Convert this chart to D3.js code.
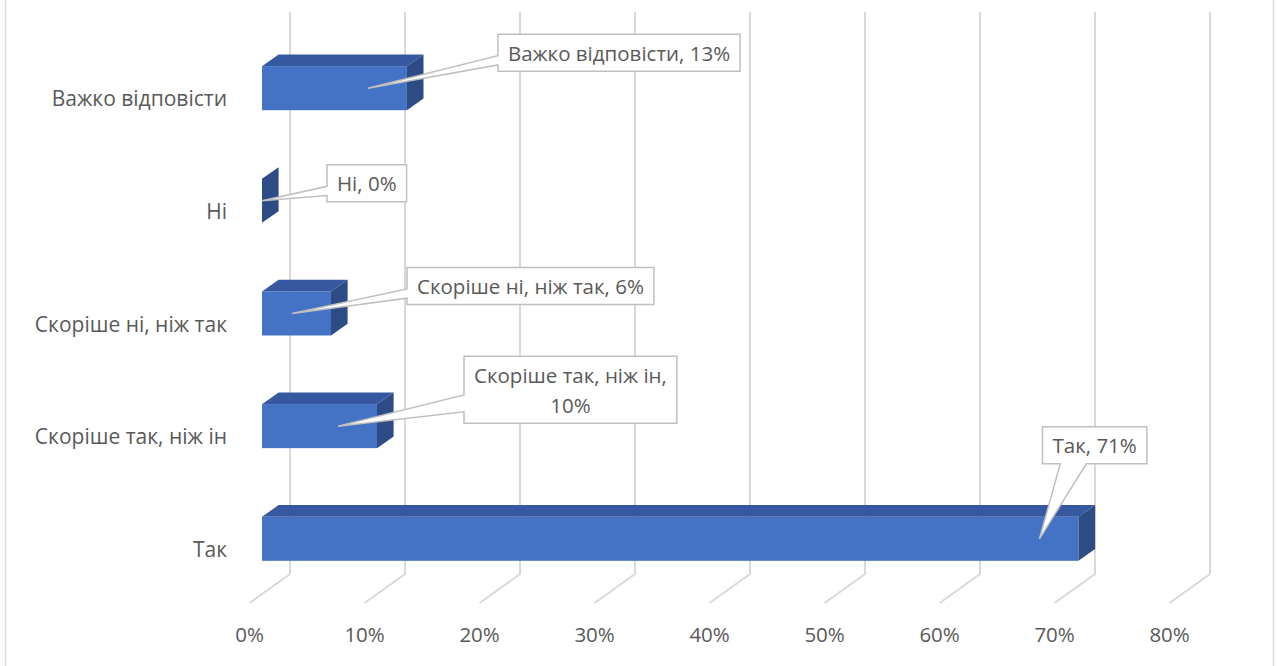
<!DOCTYPE html>
<html>
<head>
<meta charset="utf-8">
<script src="https://cdn.jsdelivr.net/npm/d3@7"></script>
<style>
  body { margin: 0; background: #fff; }
  text { font-family: "Open Sans", "Noto Sans", sans-serif; fill: #595959; }
</style>
</head>
<body>
<div id="chart-container"></div>
<script>
// data, bottom to top
let categories = ["Так", "Скоріше так, ніж ін", "Скоріше ні, ніж так", "Ні", "Важко відповісти"];
let values = [71, 10, 6, 0, 12.6];
let tickValues = [0, 10, 20, 30, 40, 50, 60, 70, 80];

// callout placement per label (box left/top relative to pointer tip), wrap = value on second line
let callouts = [
  {dx: 3, dy: -112, wrap: false, side: "bottom"},
  {dx: 126, dy: -70, wrap: true, side: "left"},
  {dx: 115, dy: -46, wrap: false, side: "left"},
  {dx: 65, dy: -36, wrap: false, side: "left"},
  {dx: 130, dy: -54, wrap: false, side: "left"}
];

drawChart();

function drawChart(){
  let svgWidth = 1277;
  let svgHeight = 666;

  let barH = 44;
  let depth = [16.6, -11.7];   // bar depth vector
  let backShift = 28;          // back wall relative to bar front plane
  let floorShift = -12.4;      // front floor edge relative to bar front plane
  let gridTop = 12;
  let floorBack = 574;
  let floorFront = 603;

  let svg = d3.select("#chart-container")
    .append("svg")
    .attr("width", svgWidth)
    .attr("height", svgHeight);

  //chart border
  svg.append("rect")
    .attr("x", 5.5)
    .attr("y", -5)
    .attr("width", 1268)
    .attr("height", svgHeight + 10)
    .attr("fill", "none")
    .attr("stroke", "#d9d9d9")
    .attr("stroke-width", 1.5);

  let xScale = d3.scaleLinear()
    .domain([0, 80])
    .range([262, 262 + 920]);

  let yScale = d3.scalePoint()
    .domain(categories)
    .range([538.8, 88.2]);

  //grid walls + floor
  let grid = svg.append("g");
  grid.selectAll("path")
    .data(tickValues)
    .enter()
    .append("path")
    .attr("d", d => {
      let xb = xScale(d) + backShift;
      let xf = xScale(d) + floorShift;
      return `M${xb},${gridTop} V${floorBack} L${xf},${floorFront}`;
    })
    .attr("fill", "none")
    .attr("stroke", "#d9d9d9")
    .attr("stroke-width", 2);

  //x tick labels
  svg.append("g")
    .selectAll("text")
    .data(tickValues)
    .enter()
    .append("text")
    .attr("x", d => xScale(d) + floorShift)
    .attr("y", 634)
    .attr("text-anchor", "middle")
    .attr("dominant-baseline", "central")
    .style("font-size", "20.5px")
    .text(d => d + "%");

  //category labels
  svg.append("g")
    .selectAll("text")
    .data(categories)
    .enter()
    .append("text")
    .attr("x", 227)
    .attr("y", d => yScale(d) + 10)
    .attr("text-anchor", "end")
    .attr("dominant-baseline", "central")
    .style("font-size", "21px")
    .text(d => d);

  //bars
  let bars = svg.append("g")
    .selectAll("g")
    .data(values)
    .enter()
    .append("g");

  bars.append("rect")
    .attr("x", xScale(0))
    .attr("y", (d, i) => yScale(categories[i]) - barH / 2)
    .attr("width", d => xScale(d) - xScale(0))
    .attr("height", barH)
    .attr("fill", "#4472C4");

  bars.append("path")
    .attr("d", (d, i) => {
      let x0 = xScale(0), x1 = xScale(d);
      let t = yScale(categories[i]) - barH / 2;
      return `M${x0},${t} L${x0 + depth[0]},${t + depth[1]} L${x1 + depth[0]},${t + depth[1]} L${x1},${t} Z`;
    })
    .attr("fill", "#3558A0");

  bars.append("path")
    .attr("d", (d, i) => {
      let x1 = xScale(d);
      let t = yScale(categories[i]) - barH / 2;
      return `M${x1},${t} L${x1 + depth[0]},${t + depth[1]} L${x1 + depth[0]},${t + barH + depth[1]} L${x1},${t + barH} Z`;
    })
    .attr("fill", "#2D4B85");

  //data label callouts
  let labels = svg.append("g");
  values.forEach((v, i) => {
    let c = callouts[i];
    let ax = Math.max(xScale(0), xScale(v) - 39);
    let ay = yScale(categories[i]);
    let lines = c.wrap ? [categories[i] + ",", Math.round(v) + "%"] : [categories[i] + ", " + Math.round(v) + "%"];

    let g = labels.append("g");
    let path = g.append("path");
    let txt = g.append("text")
      .attr("text-anchor", "middle")
      .style("font-size", "20.5px");

    let lineH = 30;
    let left = ax + c.dx;
    let top = ay + c.dy;

    txt.selectAll("tspan")
      .data(lines)
      .enter()
      .append("tspan")
      .text(d => d);

    let w = d3.max(txt.selectAll("tspan").nodes(), n => n.getComputedTextLength()) + 20;
    let h = lines.length * lineH + 7;
    let right = left + w, bottom = top + h;

    txt.selectAll("tspan")
      .attr("x", left + w / 2)
      .attr("y", (d, j) => top + 3.5 + lineH * j + lineH / 2)
      .attr("dominant-baseline", "central");

    let d;
    if (c.side === "left") {
      d = `M${left},${top} H${right} V${bottom} H${left} V${top + 0.83 * h} L${ax},${ay} L${left},${top + 0.58 * h} Z`;
    } else {
      d = `M${left},${top} H${right} V${bottom} H${left + 0.42 * w} L${ax},${ay} L${left + 0.17 * w},${bottom} H${left} Z`;
    }
    path.attr("d", d)
      .attr("fill", "#fff")
      .attr("stroke", "#bfbfbf")
      .attr("stroke-width", 1.5);
  });
}
</script>
</body>
</html>
